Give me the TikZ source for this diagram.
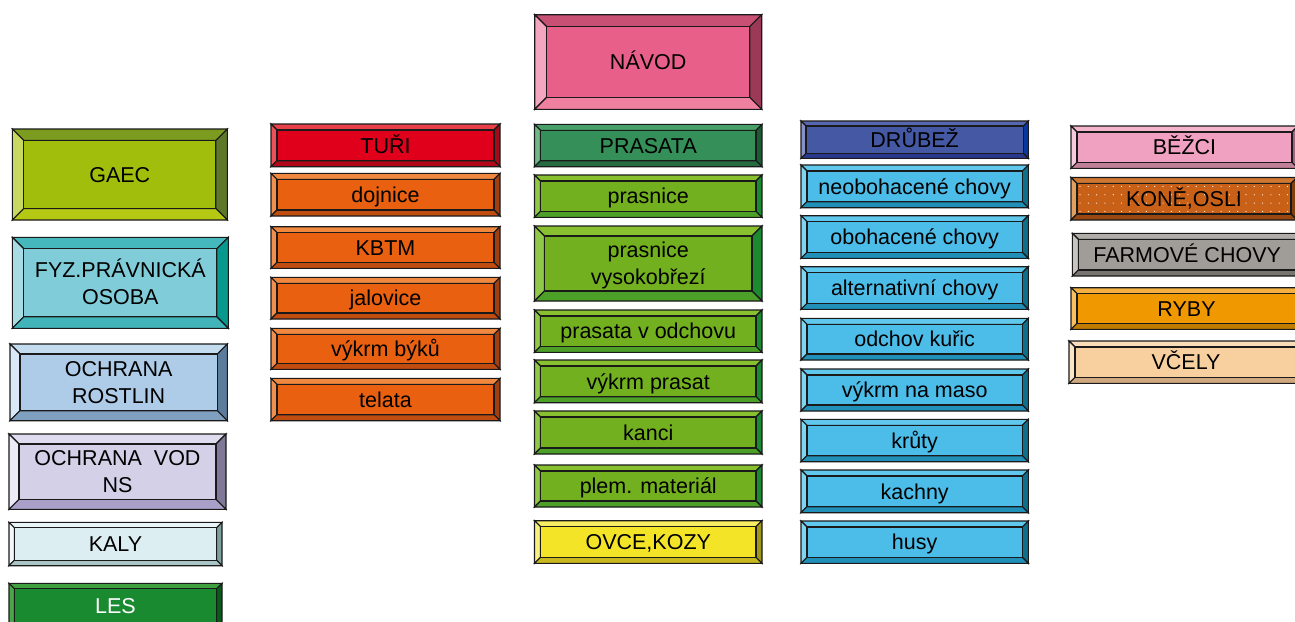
\documentclass[tikz,border=0pt]{standalone}
\usepackage{fontspec}
\setmainfont{Liberation Sans}
\newcommand\pal[6]{\definecolor{#1F}{HTML}{#2}\definecolor{#1T}{HTML}{#3}\definecolor{#1L}{HTML}{#4}\definecolor{#1R}{HTML}{#5}\definecolor{#1B}{HTML}{#6}}
\pal{navod}{E8608A}{C85074}{F4A6C0}{9C3858}{F080A0}
\pal{gaec}{A2BE0C}{7C9C20}{C8D860}{5C7828}{B4C814}
\pal{fyz}{80CCD8}{44B8BC}{A8DCE4}{08988E}{40B4B8}
\pal{rost}{AECCE8}{C4DCF0}{D8E8F8}{5C7C9C}{80A0C0}
\pal{vod}{D4D0E8}{E0DCF0}{ECEAF6}{807898}{A8A0C8}
\pal{kaly}{DCEEF2}{E8F4F8}{F0F8FA}{80A0A0}{A8C4C4}
\pal{les}{1A8A30}{40A040}{48A848}{0A5A1A}{106820}
\pal{turi}{E0001C}{E84048}{EC5058}{A00C18}{B00818}
\pal{ora}{E86010}{F08840}{F09050}{A04010}{C04C10}
\pal{pras}{349058}{48A068}{70B888}{1C5A34}{246C40}
\pal{grn}{72B020}{88C030}{90C848}{1C8A30}{4CA028}
\pal{ovce}{F4E428}{F8EC60}{F8F080}{A09818}{C8B820}
\pal{drub}{4458A4}{5868B0}{8890C8}{0838A0}{28388C}
\pal{blu}{4CBCE8}{60C8EC}{80D4F0}{10708C}{2090B8}
\pal{bezc}{F0A0C0}{F4B4CC}{F8C8DC}{A06880}{C08098}
\pal{kone}{C86018}{D07830}{E0A060}{804010}{984810}
\pal{farm}{A09C98}{B0ACA8}{C8C4C0}{686460}{787470}
\pal{ryby}{F09800}{F4B040}{F8C060}{A06800}{C07C00}
\pal{vcel}{F8D0A0}{FADCB8}{FCE4C8}{B89070}{D0A880}
\definecolor{edge}{HTML}{1A1A1A}
\tikzset{
  bev/.style={draw=edge, line width=1.1pt, line join=miter},
  face/.style={draw=edge, line width=1.1pt, inner sep=0pt, outer sep=0pt,
    font=\fontsize{21.5}{27}\selectfont, text height=15.4pt, text depth=0pt, align=center},
  two/.style={text height=42.4pt},
  dotty/.style={path picture={\foreach \i in {0,...,28}{\foreach \j in {0,...,4}{
      \fill[white] ([xshift={\i*8.3pt+3pt}, yshift={-\j*8.3pt-3pt}]path picture bounding box.north west) circle (0.6pt);}}}},
}
% #1 options, #2 x1, #3 y1, #4 x2, #5 y2, #6 bevel, #7 palette, #8 name, #9 text
\newcommand\bbox[9][]{%
  \filldraw[bev, fill=#7T] (#2,#3) -- (#4,#3) -- ({#4-#6},{#3+#6}) -- ({#2+#6},{#3+#6}) -- cycle;
  \filldraw[bev, fill=#7L] (#2,#3) -- ({#2+#6},{#3+#6}) -- ({#2+#6},{#5-#6}) -- (#2,#5) -- cycle;
  \filldraw[bev, fill=#7R] (#4,#3) -- (#4,#5) -- ({#4-#6},{#5-#6}) -- ({#4-#6},{#3+#6}) -- cycle;
  \filldraw[bev, fill=#7B] (#2,#5) -- (#4,#5) -- ({#4-#6},{#5-#6}) -- ({#2+#6},{#5-#6}) -- cycle;
  \node[face, fill=#7F, minimum width={#4-#2-2*#6}, minimum height={#5-#3-2*#6}, #1] (#8) at ({(#2+#4)/2},{(#3+#5)/2}) {#9};
}
\begin{document}
\begin{tikzpicture}[x=1pt,y=-1pt]
\useasboundingbox (0,0) rectangle (1295,621);
% column 1
\bbox{12.3}{129}{227.3}{220}{11.5}{gaec}{gaec}{GAEC}
\bbox[two]{12.3}{237.3}{228.3}{328.3}{11.5}{fyz}{fyz}{FYZ.PRÁVNICKÁ\\OSOBA}
\bbox[two]{10}{344}{227.3}{420.7}{10}{rost}{rost}{OCHRANA\\ROSTLIN}
\bbox[two]{9}{434}{226}{509.3}{10}{vod}{vod}{OCHRANA\ \ VOD\\NS}
\bbox{9}{522.3}{222}{565.7}{5.5}{kaly}{kaly}{KALY}
\bbox[text=white]{9}{583.3}{222}{628}{5.5}{les}{les}{LES}
% column 2
\bbox{271}{124}{500}{166.7}{6}{turi}{turi}{TUŘI}
\bbox{271}{173.3}{500}{216}{6}{ora}{dojnice}{dojnice}
\bbox{271}{226.7}{500}{268.3}{6}{ora}{kbtm}{KBTM}
\bbox{271}{277.3}{500}{319}{6}{ora}{jalovice}{jalovice}
\bbox{271}{328.3}{500}{369.3}{6}{ora}{vykrmb}{výkrm býků}
\bbox{271}{378.3}{500}{420.7}{6}{ora}{telata}{telata}
% column 3
\bbox{534.7}{14.7}{761.7}{109.3}{12}{navod}{navod}{NÁVOD}
\bbox{534.5}{124.3}{762}{166.7}{6}{pras}{prasata}{PRASATA}
\bbox{534.5}{175}{762}{217.3}{6}{grn}{prasnice}{prasnice}
\bbox[two]{534.5}{226}{762}{301}{10}{grn}{prasvys}{prasnice\\vysokobřezí}
\bbox{534.5}{310}{762}{352.3}{6}{grn}{odchov}{prasata v odchovu}
\bbox{534.5}{360}{762}{402.7}{6}{grn}{vykrmp}{výkrm prasat}
\bbox{534.5}{411}{762}{454}{6}{grn}{kanci}{kanci}
\bbox{534.5}{465}{762}{507}{6}{grn}{plem}{plem. materiál}
\bbox{534.5}{520.7}{762}{563.3}{6}{ovce}{ovce}{OVCE,KOZY}
% column 4
\bbox{801}{121}{1028.3}{158.3}{5}{drub}{drubez}{DRŮBEŽ}
\bbox{801}{165}{1028.3}{207.7}{6}{blu}{neob}{neobohacené chovy}
\bbox{801}{215.7}{1028.3}{258.3}{6}{blu}{oboh}{obohacené chovy}
\bbox{801}{266.7}{1028.3}{309.3}{6}{blu}{alt}{alternativní chovy}
\bbox{801}{318.3}{1028.3}{360}{6}{blu}{kuric}{odchov kuřic}
\bbox{801}{369}{1028.3}{411}{6}{blu}{vykrmm}{výkrm na maso}
\bbox{801}{419.3}{1028.3}{461.7}{6}{blu}{kruty}{krůty}
\bbox{801}{470}{1028.3}{512.7}{6}{blu}{kachny}{kachny}
\bbox{801}{521}{1028.3}{563.3}{6}{blu}{husy}{husy}
% column 5
\bbox{1071}{126}{1298}{168.3}{6}{bezc}{bezci}{BĚŽCI}
\bbox[dotty]{1071}{177.5}{1297}{220}{6}{kone}{kone}{KONĚ,OSLI}
\bbox{1072.3}{233.3}{1302}{276}{6}{farm}{farm}{FARMOVÉ CHOVY}
\bbox{1071}{287.7}{1302}{329.3}{6}{ryby}{ryby}{RYBY}
\bbox{1069}{341}{1303}{383.3}{6}{vcel}{vcely}{VČELY}
\end{tikzpicture}
\end{document}
